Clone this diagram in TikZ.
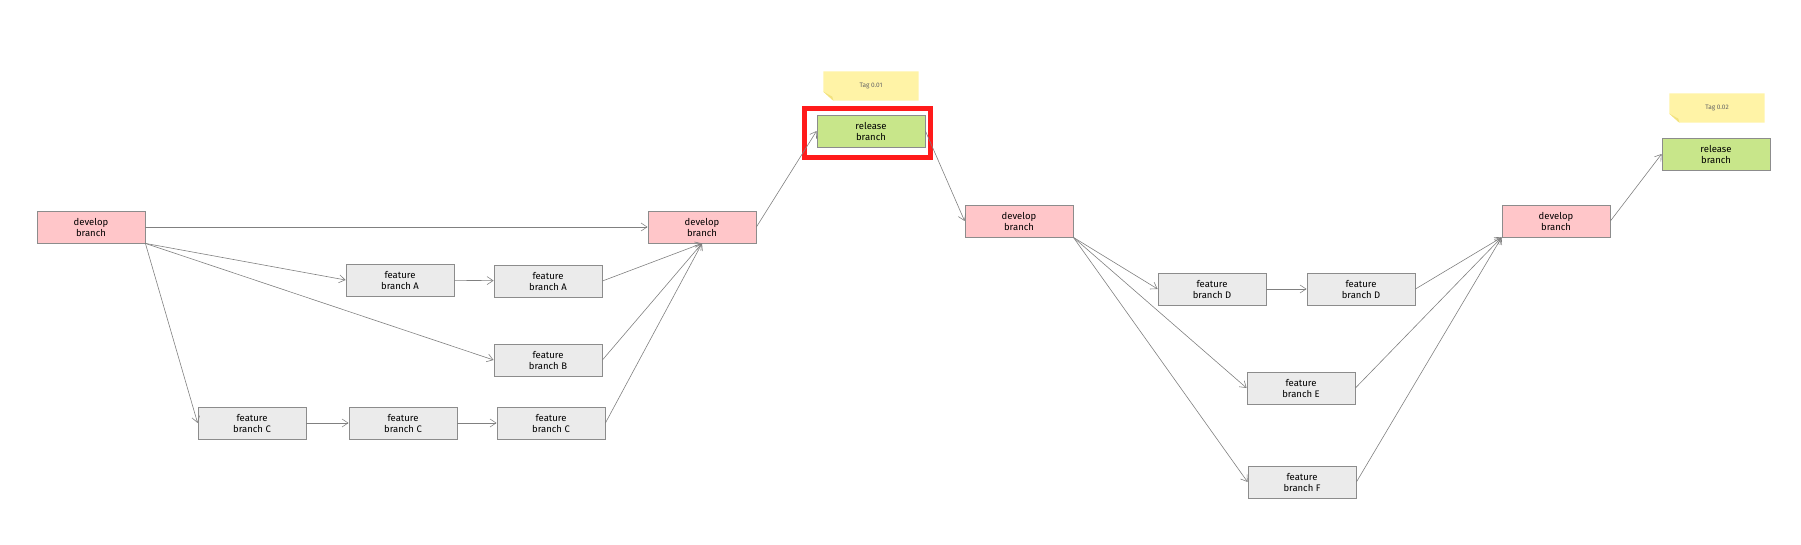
\documentclass[tikz,border=0pt]{standalone}
\usepackage{fontspec}
\setmainfont{Fira Sans}
\usetikzlibrary{arrows.meta,backgrounds}

\definecolor{devfill}{HTML}{FFC6C9}
\definecolor{featfill}{HTML}{EBEBEB}
\definecolor{relfill}{HTML}{C8E68A}
\definecolor{notefill}{HTML}{FFF3A6}
\definecolor{notefold}{HTML}{F2E27E}
\definecolor{boxline}{HTML}{8C8C8C}
\definecolor{frame}{HTML}{FF1A1A}

\tikzset{
  branchbox/.style={draw=boxline, line width=0.8pt, minimum width=108pt,
    minimum height=32pt, align=center, inner sep=1pt, font=\fontsize{9.5}{11}\selectfont},
  devbox/.style={branchbox, fill=devfill},
  featbox/.style={branchbox, fill=featfill},
  relbox/.style={branchbox, fill=relfill},
  tagnote/.style={minimum width=95pt, minimum height=29pt, text=black!60,
    font=\fontsize{6.5}{8}\selectfont},
  flow/.style={draw=black!50, line width=0.6pt, -{Straight Barb[length=6pt,width=8pt]}},
}

\begin{document}
\begin{tikzpicture}[x=1pt, y=-1pt]
  \useasboundingbox (0,0) rectangle (1801,545);
  % erste Runde: develop -> features -> develop -> release
  \node[devbox]  (dev1)  at (91,227)  {develop\\branch};
  \node[featbox] (featA1) at (400,280) {feature\\branch A};
  \node[featbox] (featA2) at (548,281) {feature\\branch A};
  \node[featbox] (featB)  at (548,360) {feature\\branch B};
  \node[featbox] (featC1) at (252,423) {feature\\branch C};
  \node[featbox] (featC2) at (403,423) {feature\\branch C};
  \node[featbox] (featC3) at (551,423) {feature\\branch C};
  \node[devbox]  (dev2)  at (702,227) {develop\\branch};
  \node[relbox]  (rel1)  at (871,131) {release\\branch};
  \node[tagnote] (tag1)  at (871,86)  {Tag 0.01};
  % zweite Runde
  \node[devbox]  (dev3)  at (1019,221) {develop\\branch};
  \node[featbox] (featD1) at (1212,289) {feature\\branch D};
  \node[featbox] (featD2) at (1361,289) {feature\\branch D};
  \node[featbox] (featE)  at (1301,388) {feature\\branch E};
  \node[featbox] (featF)  at (1302,482) {feature\\branch F};
  \node[devbox]  (dev4)  at (1556,221) {develop\\branch};
  \node[relbox]  (rel2)  at (1716,154) {release\\branch};
  \node[tagnote] (tag2)  at (1717,108) {Tag 0.02};
  % Notizzettel mit Eselsohr
  \begin{scope}[on background layer]
    \foreach \t in {tag1,tag2} {
      \fill[notefill] (\t.north west) -- (\t.north east) -- (\t.south east)
        -- ([xshift=10pt]\t.south west) -- ([yshift=9pt]\t.south west) -- cycle;
      \fill[notefold] ([xshift=10pt]\t.south west) -- ([yshift=9pt]\t.south west)
        -- ([shift={(9pt,4pt)}]\t.south west) -- cycle;
    }
  \end{scope}
  % Markierung
  \draw[frame, line width=5.5pt] ([shift={(-12pt,6pt)}]rel1.north west)
    rectangle ([shift={(5pt,-10pt)}]rel1.south east);
  % Verbindungen
  \draw[flow] (dev1) -- (dev2);
  \draw[flow] (dev1.south east) -- (featA1.west);
  \draw[flow] (dev1.south east) -- (featB.west);
  \draw[flow] (dev1.south east) -- (featC1.west);
  \draw[flow] (featA1) -- (featA2);
  \draw[flow] (featC1) -- (featC2);
  \draw[flow] (featC2) -- (featC3);
  \draw[flow] (featA2.east) -- (dev2.south);
  \draw[flow] (featB.east) -- (dev2.south);
  \draw[flow] (featC3.east) -- (dev2.south);
  \draw[flow] (dev2.east) -- (rel1.west);
  \draw[flow] (rel1.east) -- (dev3.west);
  \draw[flow] (dev3.south east) -- (featD1.west);
  \draw[flow] (dev3.south east) -- (featE.west);
  \draw[flow] (dev3.south east) -- (featF.west);
  \draw[flow] (featD1) -- (featD2);
  \draw[flow] (featD2.east) -- (dev4.south west);
  \draw[flow] (featE.east) -- (dev4.south west);
  \draw[flow] (featF.east) -- (dev4.south west);
  \draw[flow] (dev4.east) -- (rel2.west);
\end{tikzpicture}
\end{document}
